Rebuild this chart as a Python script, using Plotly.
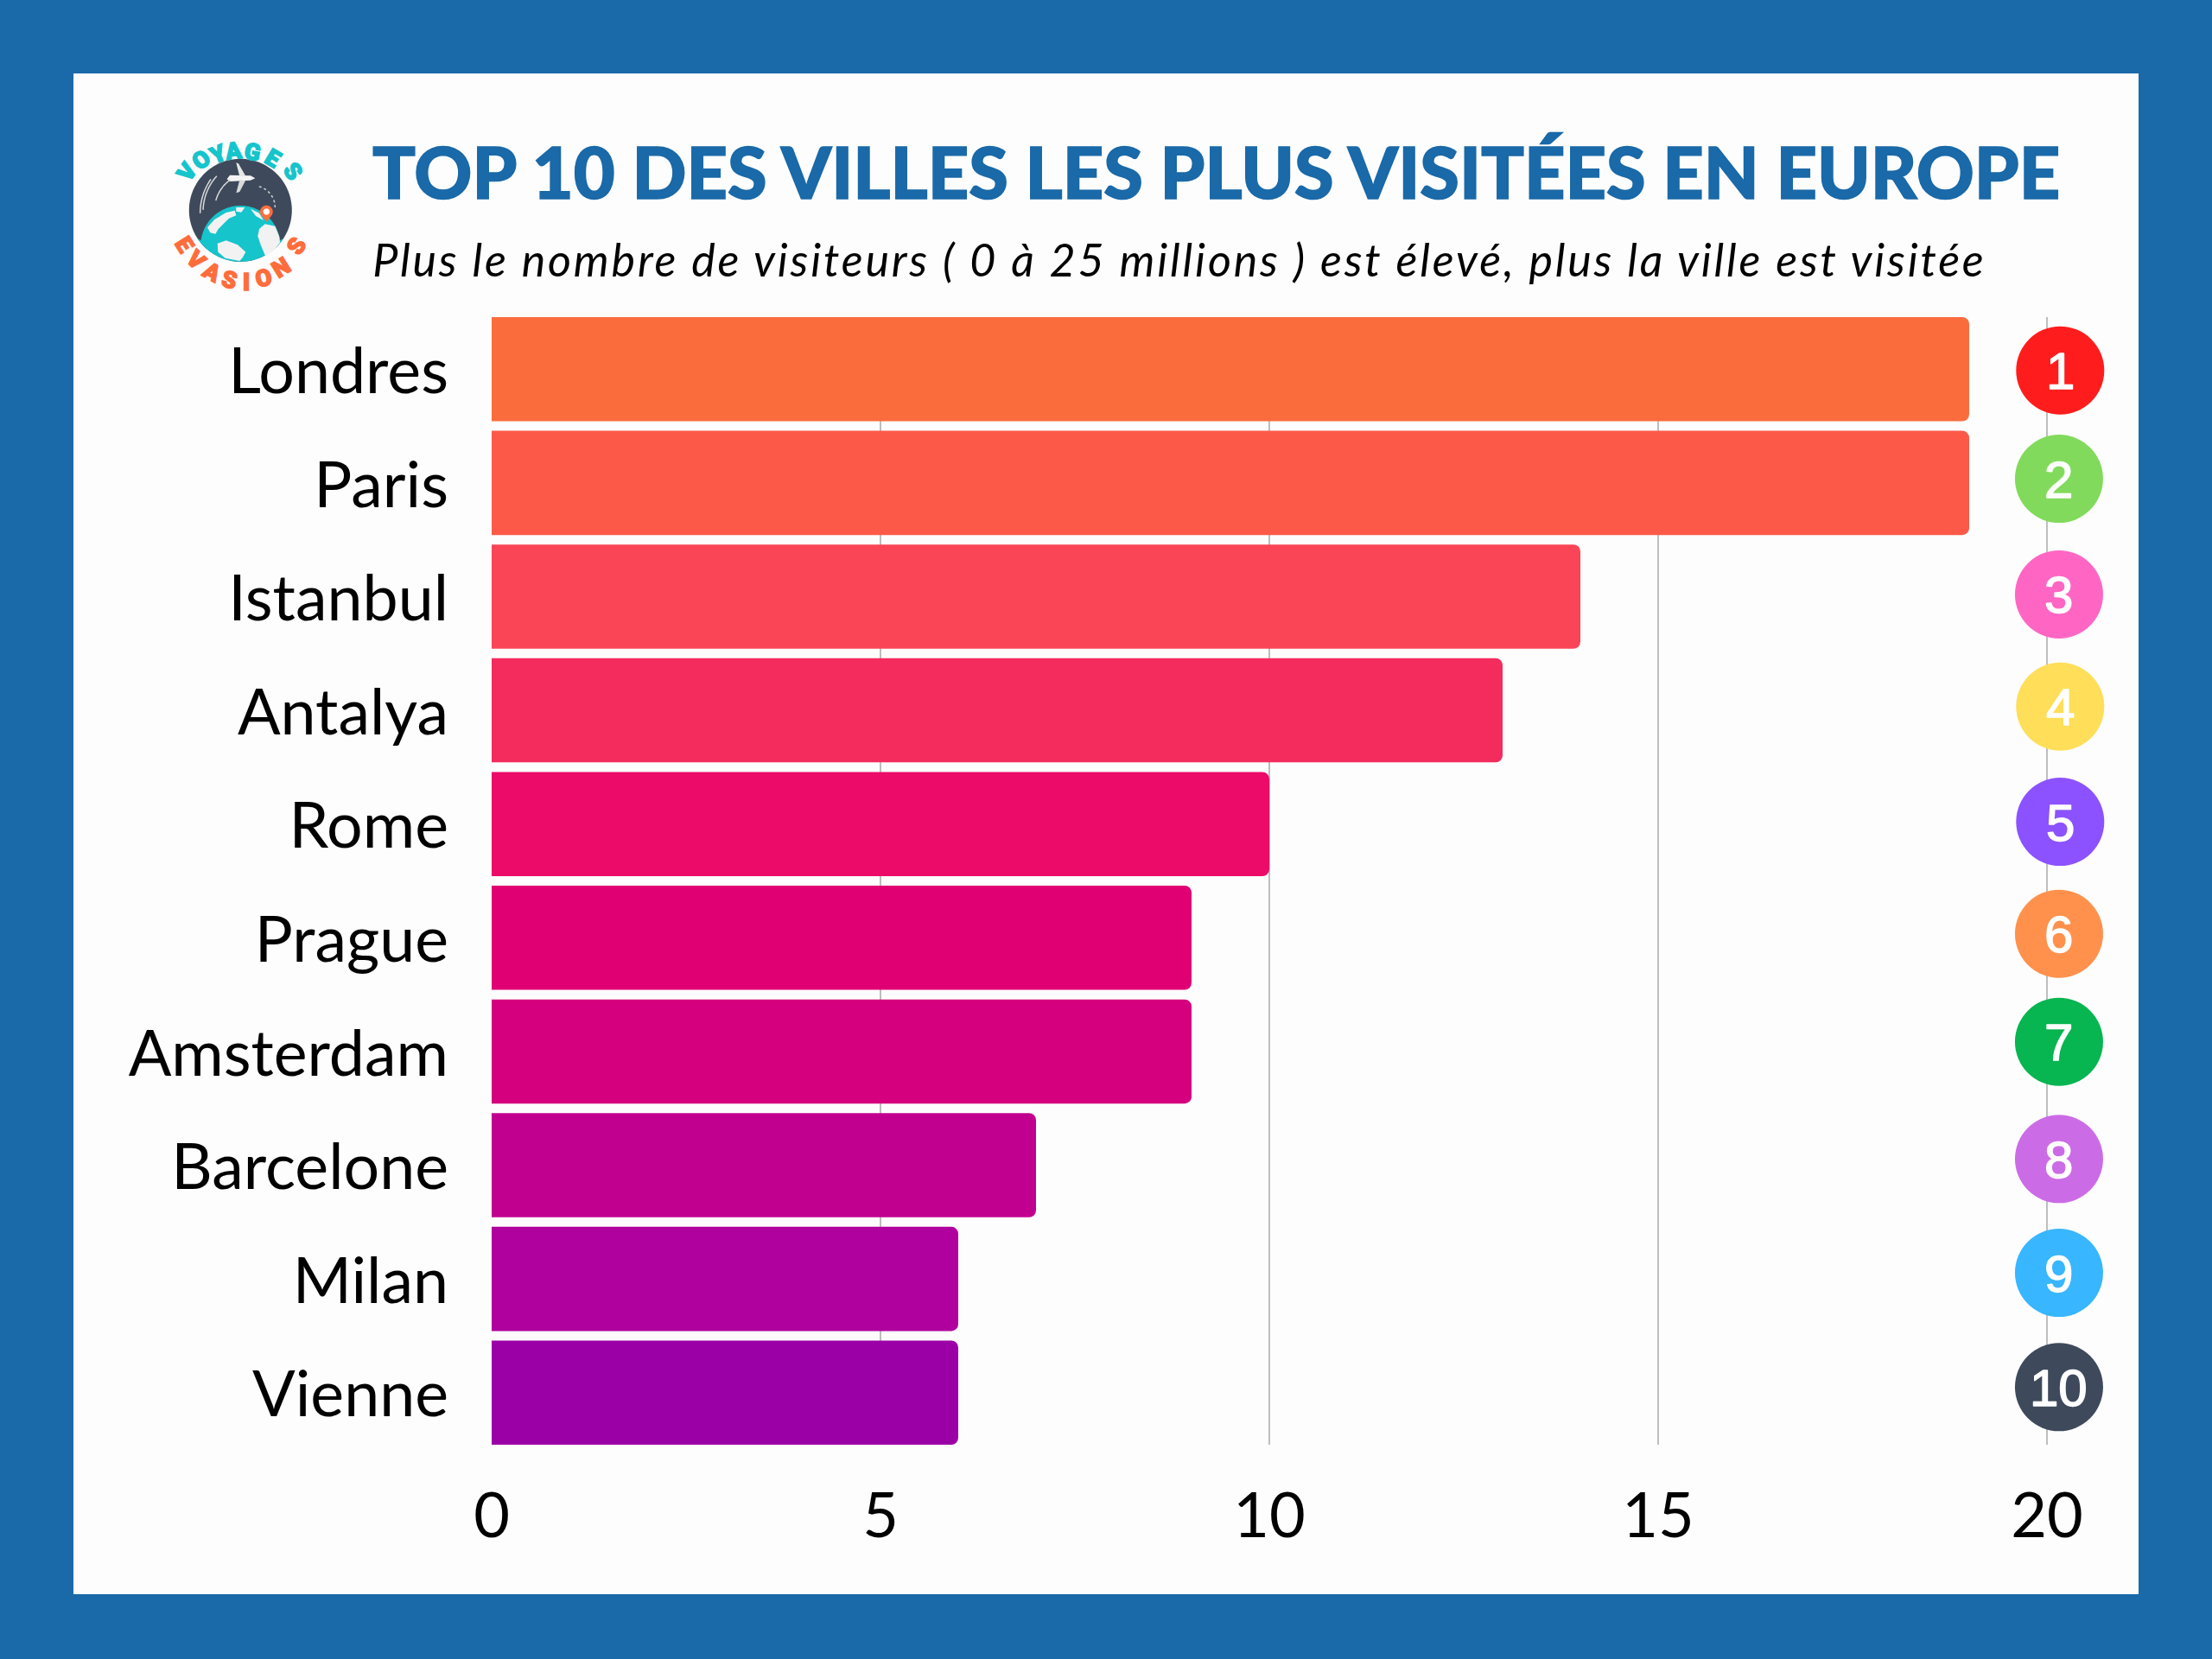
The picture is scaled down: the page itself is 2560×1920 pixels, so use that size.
import numpy as np
import plotly.graph_objects as go

W, H = 2560, 1920

# bars
cities = ["Londres", "Paris", "Istanbul", "Antalya", "Rome", "Prague", "Amsterdam", "Barcelone", "Milan", "Vienne"]
visitors = [19, 19, 14, 13, 10, 9, 9, 7, 6, 6]
bar_colors = ["#FB6C3D", "#FD5948", "#F94556", "#F42C5E", "#EC0B68", "#E10074", "#D4007E", "#C2008F", "#B0009D", "#9B00A7"]
x_ticks = [0, 5, 10, 15, 20]

# rank badges, they sit slightly off the rows in the picture
ranks = ["1", "2", "3", "4", "5", "6", "7", "8", "9", "10"]
badge_x = [20.17, 20.155, 20.155, 20.17, 20.17, 20.155, 20.155, 20.155, 20.155, 20.155]
badge_row = [0.011, 0.963, 1.981, 2.967, 3.98, 4.965, 5.915, 6.945, 7.946, 8.951]
badge_colors = ["#FF1C1C", "#82DA5C", "#FF66C4", "#FFDE59", "#8C52FF", "#FF914D", "#07B551", "#CB6CE6", "#38B6FF", "#3E4A5B"]

title = "TOP 10 DES VILLES LES PLUS VISITÉES EN EUROPE"
subtitle = "Plus le nombre de visiteurs ( 0 à 25 millions ) est élevé, plus la ville est visitée"

BLUE = "#1A69A8"
TEAL = "#16C4CC"
ORANGE = "#FF6D3D"
SLATE = "#3E4A5B"
LAND = "#F2F2F2"

# logo letters: x, y (crop pixels of the logo), rotation
voyages = [("V", 80, 148, -55), ("O", 130, 106, -38), ("Y", 185, 86, -22), ("A", 240, 74, -7),
           ("G", 305, 78, 11), ("E", 375, 100, 31), ("S", 445, 145, 53)]
evasions = [("E", 70, 398, 58), ("V", 110, 452, 44), ("A", 165, 495, 29), ("S", 225, 522, 14),
            ("I", 285, 532, 0), ("O", 345, 517, -14), ("N", 405, 480, -32), ("S", 460, 405, -58)]


def paper(px, py):
    return px / W, 1 - py / H


def logo_px(zx, zy):
    # logo crop coordinates to page pixels
    return 190 + zx / 3, 150 + zy / 3


def polygon(points, fill, line=None, width=0):
    path = ""
    for i, (px, py) in enumerate(points):
        fx, fy = paper(px, py)
        path += ("M" if i == 0 else "L") + f"{fx:.5f},{fy:.5f}"
    if line is None:
        return dict(type="path", path=path + "Z", xref="paper", yref="paper", fillcolor=fill, line_width=0)
    return dict(type="path", path=path, xref="paper", yref="paper", line=dict(color=line, width=width))


def logo_poly(points, fill):
    return polygon([logo_px(*p) for p in points], fill)


def logo_line(points, color, width, dash=None):
    s = polygon([logo_px(*p) for p in points], None, color, width)
    if dash:
        s["line"]["dash"] = dash
    return s


def arc(cx, cy, r, a0, a1, n=60):
    a = np.radians(np.linspace(a0, a1, n))
    return list(zip(cx + r * np.cos(a), cy + r * np.sin(a)))


# logo shapes
dcx, dcy, dr = 278.3, 243.3, 59.5
gcx, gcy, gr = 278.3, 284.0, 46.0
globe_pts = arc(gcx, gcy, gr, 187.5, 352.5) + arc(dcx, dcy, dr, 34, 146)
dark = arc(dcx, dcy, dr, 0, 360, 120)

logo_shapes = [
    polygon(dark, SLATE),
    polygon(globe_pts, TEAL),
    logo_poly([(250, 270), (280, 270), (268, 287), (250, 284)], LAND),
    logo_poly([(150, 340), (175, 312), (215, 288), (245, 281), (250, 298), (225, 308), (203, 330), (188, 345),
               (178, 362), (160, 358)], LAND),
    logo_poly([(185, 395), (215, 385), (255, 400), (283, 425), (272, 445), (262, 456), (212, 446), (187, 425)], LAND),
    logo_poly([(330, 345), (350, 328), (385, 335), (400, 372), (402, 392), (380, 420), (352, 440), (335, 400),
               (325, 370)], LAND),
    logo_poly([(300, 275), (330, 290), (345, 315), (318, 300)], LAND),
    # plane
    logo_poly([(218, 172), (228, 158), (300, 160), (316, 169), (300, 176), (228, 180)], "#F4F4F4"),
    logo_poly([(250, 115), (258, 118), (282, 160), (262, 163)], "#E6E6E6"),
    logo_poly([(262, 175), (282, 178), (262, 216), (250, 220)], "#DADADA"),
    logo_line(arc(305, 280, 130, 195, 235, 24), "#D8D8D8", 1.5),
    logo_line(arc(320, 285, 185, 182, 222, 24), "#D8D8D8", 1.5),
    logo_line(arc(330, 290, 205, 180, 215, 24), "#D8D8D8", 1.5),
    logo_line(arc(310, 270, 75, -75, 0, 24), "#CFCFCF", 1.5, "dot"),
    # pin
    logo_poly(arc(355, 285, 22, 150, 390, 40) + [(356, 320)], ORANGE),
    logo_poly(arc(355, 285, 11, 0, 360, 30), "#FFFFFF"),
]

shapes = [
    dict(type="rect", xref="paper", yref="paper", x0=85 / W, x1=2475 / W, y0=1 - 1845 / H, y1=1 - 85 / H,
         fillcolor="#FDFDFD", line_width=0, layer="below"),
] + logo_shapes

annotations = []
for word, color in ((voyages, TEAL), (evasions, ORANGE)):
    for letter, zx, zy, angle in word:
        ax, ay = paper(*logo_px(zx, zy))
        annotations.append(dict(text=letter, x=ax, y=ay, xref="paper", yref="paper", showarrow=False,
                                xanchor="center", yanchor="middle", textangle=angle,
                                font=dict(family="Roboto", size=27, weight=900, color=color)))

annotations.append(dict(text=title, x=429 / W, y=1 - 198 / H, xref="paper", yref="paper", showarrow=False,
                        xanchor="left", yanchor="middle",
                        font=dict(family="Lato", size=82.8, weight=900, color=BLUE)))
# x is moved right because the added letter spacing spreads from the middle of the text
annotations.append(dict(text=subtitle, x=548 / W, y=1 - 300 / H, xref="paper", yref="paper", showarrow=False,
                        xanchor="left", yanchor="middle",
                        font=dict(family="Lato", size=52, style="italic", color="#000000")))

for rank, bx, by in zip(ranks, badge_x, badge_row):
    annotations.append(dict(text=rank, x=bx, y=by, xref="x", yref="y2", showarrow=False,
                            xanchor="center", yanchor="middle", yshift=-1,
                            font=dict(family="Liberation Sans", size=60, color="#FFFFFF")))

fig = go.Figure()
fig.add_trace(go.Bar(x=visitors, y=cities, orientation="h", marker=dict(color=bar_colors, line_width=0), width=0.916))
fig.add_trace(go.Scatter(x=badge_x, y=badge_row, yaxis="y2", mode="markers", cliponaxis=False,
                         marker=dict(color=badge_colors, size=102, line_width=0)))

# x range runs past 20 because points outside the range get hidden, 569 + 90 px per unit
fig.update_layout(
    width=W, height=H, autosize=False,
    margin=dict(l=0, r=0, t=0, b=0, pad=0),
    paper_bgcolor=BLUE, plot_bgcolor="rgba(0,0,0,0)",
    showlegend=False, barcornerradius=8,
    shapes=shapes, annotations=annotations,
    xaxis=dict(domain=[569 / W, (569 + 90 * 20.9) / W], range=[0, 20.9], tickvals=x_ticks, showgrid=True,
               gridcolor="#BEBEBE", gridwidth=2, zeroline=False, showline=False, ticks="", ticklabelstandoff=34,
               automargin=False, tickfont=dict(family="Lato", size=72, color="#000000")),
    yaxis=dict(domain=[1 - 1672 / H, 1 - 367 / H], range=[9.458, -0.458], type="category", showgrid=False,
               zeroline=False, showline=False, ticks="", ticklabelstandoff=49, ticklabelshift=-2, automargin=False,
               tickfont=dict(family="Lato", size=73.5, color="#000000")),
    yaxis2=dict(domain=[1 - 1672 / H, 1 - 367 / H], range=[9.458, -0.458], overlaying="y", visible=False,
                automargin=False),
)

# letter spacing and heavier strokes are not available as plotly font options
post = """
document.body.style.margin = '0';
document.querySelectorAll('.annotation-text').forEach(function (t) {
  var s = t.textContent;
  if (s.indexOf('Plus le') === 0) { t.style.letterSpacing = '2.83px'; }
  if (s.indexOf('TOP 10') === 0) { t.style.stroke = '#1A69A8'; t.style.strokeWidth = '1.5px'; }
  if (/^[A-Z]$/.test(s)) { t.style.stroke = t.style.fill; t.style.strokeWidth = '1.5px'; }
  if (/^[0-9]+$/.test(s)) {
    t.style.stroke = '#FFFFFF'; t.style.strokeWidth = '1.5px'; t.style.strokeLinejoin = 'round';
  }
});
"""
fig.write_html("out.html", post_script=post, config={"displayModeBar": False})
